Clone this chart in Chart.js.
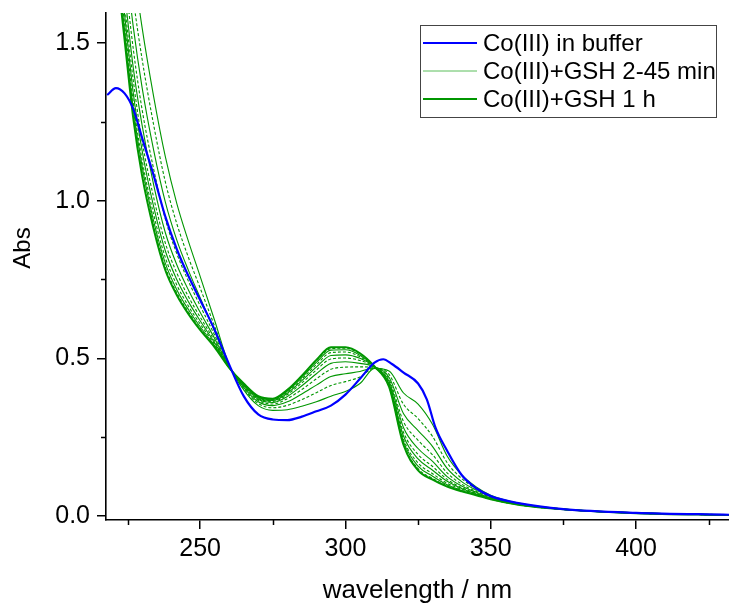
<!DOCTYPE html>
<html>
<head>
<meta charset="utf-8">
<script src="https://cdn.jsdelivr.net/npm/chart.js@4.4.0/dist/chart.umd.min.js"></script>
<style>
  html, body { margin: 0; padding: 0; background: #fff; }
</style>
</head>
<body>
<canvas id="myChart" width="729" height="605"></canvas>
<script>
// axis ticks
const xMajor = [250, 300, 350, 400];
const xMinor = [225, 275, 325, 375, 425];
const yMajor = [0, 0.5, 1.0, 1.5];
const yMinor = [0.25, 0.75, 1.25];

// Co(III) in buffer
const blueWl  = [218, 221, 224, 227, 230, 234, 238, 242, 246, 250, 255, 260, 265, 270, 275, 280, 285, 290, 295, 300, 305, 310, 313, 316, 320, 325, 328, 331, 335, 340, 345, 350, 360, 375, 400, 432];
const blueAbs = [1.335, 1.357, 1.34, 1.29, 1.20, 1.08, 0.95, 0.845, 0.76, 0.685, 0.59, 0.48, 0.38, 0.322, 0.306, 0.304, 0.315, 0.332, 0.35, 0.385, 0.435, 0.486, 0.497, 0.482, 0.455, 0.42, 0.37, 0.28, 0.207, 0.13, 0.088, 0.063, 0.04, 0.022, 0.01, 0.004];

// Co(III)+GSH spectra, common wavelength grid
const greenWl = [218, 221, 224, 227, 230, 234, 238, 242, 246, 250, 255, 260, 265, 270, 275, 280, 285, 290, 295, 300, 305, 310, 315, 320, 325, 330, 335, 340, 345, 350, 360, 375, 400, 432];

// 2-45 min (first to last)
const gsh01 = [2.45, 2.20, 1.98, 1.75, 1.55, 1.33, 1.14, 0.99, 0.87, 0.76, 0.62, 0.478, 0.40, 0.35, 0.335, 0.337, 0.348, 0.362, 0.38, 0.395, 0.42, 0.468, 0.46, 0.39, 0.355, 0.29, 0.19, 0.13, 0.092, 0.066, 0.04, 0.022, 0.01, 0.004];
const gsh02 = [2.35, 2.10, 1.88, 1.64, 1.45, 1.24, 1.06, 0.926, 0.819, 0.723, 0.601, 0.476, 0.404, 0.357, 0.343, 0.351, 0.369, 0.391, 0.414, 0.426, 0.441, 0.469, 0.449, 0.354, 0.309, 0.252, 0.169, 0.119, 0.086, 0.063, 0.039, 0.022, 0.01, 0.004];
const gsh03 = [2.27, 2.02, 1.79, 1.55, 1.36, 1.16, 0.996, 0.874, 0.778, 0.692, 0.586, 0.475, 0.408, 0.362, 0.35, 0.362, 0.387, 0.415, 0.442, 0.451, 0.458, 0.47, 0.44, 0.324, 0.271, 0.22, 0.151, 0.109, 0.082, 0.061, 0.038, 0.022, 0.01, 0.004];
const gsh04 = [2.20, 1.96, 1.72, 1.48, 1.29, 1.10, 0.942, 0.831, 0.744, 0.667, 0.573, 0.474, 0.411, 0.367, 0.355, 0.372, 0.401, 0.435, 0.465, 0.472, 0.473, 0.471, 0.433, 0.299, 0.24, 0.194, 0.137, 0.101, 0.078, 0.059, 0.037, 0.021, 0.009, 0.003];
const gsh05 = [2.15, 1.90, 1.66, 1.42, 1.24, 1.05, 0.899, 0.796, 0.716, 0.646, 0.563, 0.473, 0.413, 0.37, 0.36, 0.379, 0.413, 0.451, 0.484, 0.489, 0.484, 0.472, 0.427, 0.28, 0.214, 0.173, 0.125, 0.095, 0.075, 0.057, 0.037, 0.021, 0.009, 0.003];
const gsh06 = [2.11, 1.87, 1.62, 1.38, 1.19, 1.01, 0.866, 0.77, 0.695, 0.631, 0.555, 0.472, 0.415, 0.373, 0.363, 0.385, 0.422, 0.463, 0.498, 0.501, 0.493, 0.473, 0.422, 0.265, 0.195, 0.157, 0.116, 0.09, 0.072, 0.056, 0.036, 0.021, 0.009, 0.003];
const gsh07 = [2.08, 1.84, 1.59, 1.34, 1.16, 0.981, 0.841, 0.749, 0.679, 0.619, 0.549, 0.471, 0.417, 0.375, 0.366, 0.389, 0.429, 0.472, 0.509, 0.511, 0.50, 0.473, 0.419, 0.253, 0.181, 0.145, 0.11, 0.087, 0.07, 0.055, 0.036, 0.021, 0.009, 0.003];
const gsh08 = [2.05, 1.81, 1.56, 1.31, 1.13, 0.956, 0.82, 0.732, 0.665, 0.609, 0.544, 0.471, 0.418, 0.377, 0.368, 0.393, 0.434, 0.48, 0.518, 0.52, 0.505, 0.473, 0.416, 0.243, 0.168, 0.134, 0.104, 0.084, 0.069, 0.054, 0.035, 0.021, 0.009, 0.003];
const gsh09 = [2.03, 1.79, 1.54, 1.29, 1.11, 0.935, 0.802, 0.717, 0.654, 0.60, 0.54, 0.47, 0.419, 0.378, 0.37, 0.396, 0.439, 0.487, 0.526, 0.527, 0.51, 0.474, 0.413, 0.235, 0.158, 0.126, 0.099, 0.081, 0.068, 0.054, 0.035, 0.021, 0.009, 0.003];
const gsh10 = [2.01, 1.77, 1.52, 1.27, 1.09, 0.92, 0.789, 0.707, 0.646, 0.594, 0.537, 0.47, 0.42, 0.379, 0.371, 0.398, 0.443, 0.492, 0.531, 0.532, 0.514, 0.474, 0.411, 0.229, 0.15, 0.119, 0.096, 0.079, 0.067, 0.053, 0.035, 0.021, 0.009, 0.003];
// 1 h
const gsh1h = [2.00, 1.76, 1.51, 1.26, 1.08, 0.91, 0.78, 0.70, 0.64, 0.59, 0.535, 0.47, 0.42, 0.38, 0.372, 0.40, 0.445, 0.495, 0.535, 0.535, 0.516, 0.474, 0.41, 0.225, 0.145, 0.115, 0.093, 0.078, 0.066, 0.053, 0.035, 0.021, 0.009, 0.003];

const thinSeries = [gsh01, gsh02, gsh03, gsh04, gsh05, gsh06, gsh07, gsh08, gsh09, gsh10];

const legendItems = [
    { text: 'Co(III) in buffer', color: 'rgb(0,0,255)', width: 2 },
    { text: 'Co(III)+GSH 2-45 min', color: 'rgb(90,190,90)', width: 1 },
    { text: 'Co(III)+GSH 1 h', color: 'rgb(0,150,0)', width: 2 }
];

const FONT = "'Liberation Sans', Arial, sans-serif";
const green = 'rgb(0,150,0)';

function pts(xs, ys) {
    return xs.map((x, i) => ({ x: x, y: ys[i] }));
}

const datasets = [{
    label: 'Co(III) in buffer',
    data: pts(blueWl, blueAbs),
    borderColor: 'rgb(0,0,255)',
    borderWidth: 2.2
}, {
    label: 'Co(III)+GSH 1 h',
    data: pts(greenWl, gsh1h),
    borderColor: green,
    borderWidth: 2
}];
thinSeries.forEach((s, i) => {
    datasets.push({
        label: 'Co(III)+GSH ' + (i + 1),
        data: pts(greenWl, s),
        borderColor: green,
        borderWidth: 1.1,
        borderDash: i % 2 === 1 ? [3, 2] : []
    });
});

// minor ticks, y title and framed legend
const extras = {
    id: 'extras',
    afterDraw(chart) {
        const { ctx, chartArea, scales } = chart;
        ctx.save();
        ctx.strokeStyle = '#000';
        ctx.lineWidth = 1.5;
        ctx.beginPath();
        xMinor.forEach(v => {
            const px = Math.round(scales.x.getPixelForValue(v)) + 0.5;
            ctx.moveTo(px, chartArea.bottom);
            ctx.lineTo(px, chartArea.bottom + 5);
        });
        yMinor.forEach(v => {
            const py = Math.round(scales.y.getPixelForValue(v)) + 0.5;
            ctx.moveTo(chartArea.left, py);
            ctx.lineTo(chartArea.left - 5, py);
        });
        ctx.stroke();

        // y title
        ctx.save();
        ctx.translate(23, 248);
        ctx.rotate(-Math.PI / 2);
        ctx.fillStyle = '#000';
        ctx.font = '24px ' + FONT;
        ctx.textAlign = 'center';
        ctx.textBaseline = 'middle';
        ctx.fillText('Abs', 0, 0);
        ctx.restore();

        // x title
        ctx.fillStyle = '#000';
        ctx.font = '26px ' + FONT;
        ctx.textAlign = 'center';
        ctx.textBaseline = 'middle';
        ctx.fillText('wavelength / nm', (chartArea.left + chartArea.right) / 2, 591);

        // legend box
        ctx.textAlign = 'left';
        ctx.fillStyle = '#fff';
        ctx.fillRect(421, 25, 296, 92);
        ctx.strokeStyle = '#444';
        ctx.lineWidth = 1;
        ctx.strokeRect(420.5, 25.5, 296, 92);
        ctx.font = '24px ' + FONT;
        ctx.textBaseline = 'middle';
        legendItems.forEach((it, i) => {
            const y = 43 + i * 28;
            ctx.strokeStyle = it.color;
            ctx.lineWidth = it.width;
            ctx.beginPath();
            ctx.moveTo(423, y);
            ctx.lineTo(477, y);
            ctx.stroke();
            ctx.fillStyle = '#000';
            ctx.fillText(it.text, 483, y + 1);
        });
        ctx.restore();
    }
};

const ctx = document.getElementById('myChart').getContext('2d');
const myChart = new Chart(ctx, {
    type: 'line',
    data: { datasets: datasets },
    options: {
        responsive: false,
        animation: false,
        devicePixelRatio: 1,
        layout: { padding: { top: 13, right: 0, left: 0, bottom: 0 } },
        elements: {
            point: { radius: 0 },
            line: { cubicInterpolationMode: 'monotone', fill: false }
        },
        plugins: {
            legend: { display: false },
            tooltip: { enabled: false }
        },
        scales: {
            x: {
                type: 'linear',
                min: 217.6,
                max: 432,
                afterBuildTicks: s => { s.ticks = xMajor.map(v => ({ value: v })); },
                afterFit: s => { s.height = 85; s.paddingLeft = 0; s.paddingRight = 0; },
                grid: { drawOnChartArea: false, drawTicks: true, tickLength: 9, color: '#000', lineWidth: 1.5 },
                border: { display: true, color: '#000', width: 1.6 },
                ticks: { color: '#000', font: { family: FONT, size: 25 }, padding: 5, maxRotation: 0 }
            },
            y: {
                min: -0.0127,
                max: 1.595,
                afterBuildTicks: s => { s.ticks = yMajor.map(v => ({ value: v })); },
                afterFit: s => { s.width = 106; s.paddingTop = 0; s.paddingBottom = 0; },
                grid: { drawOnChartArea: false, drawTicks: true, tickLength: 9, color: '#000', lineWidth: 1.5 },
                border: { display: true, color: '#000', width: 1.6 },
                ticks: { color: '#000', font: { family: FONT, size: 25 }, padding: 7, callback: v => v.toFixed(1) }
            }
        }
    },
    plugins: [extras]
});
</script>
</body>
</html>
